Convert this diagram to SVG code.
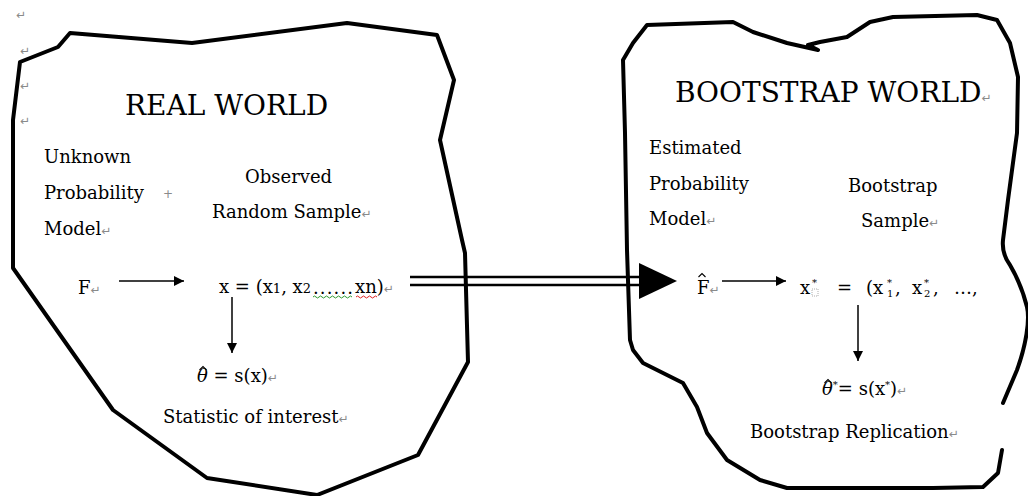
<svg xmlns="http://www.w3.org/2000/svg" width="1028" height="496" viewBox="0 0 1028 496">
<style>
text{font-family:"DejaVu Serif","Liberation Serif",serif;fill:#000}
.t{font-size:18px}
.h{font-size:28px}
.pm{font-size:12px;fill:#8a8a8a;font-family:"DejaVu Sans","Noto Sans",sans-serif}
.sm{font-size:13px}
.sup{font-size:10px}
.outline{fill:none;stroke:#000;stroke-width:4;stroke-linejoin:round;stroke-linecap:round}
.ln{stroke:#000;stroke-width:1.5;fill:none}
.hat{fill:none;stroke:#000;stroke-width:1.1}
</style>
<defs>
<marker id="ah" viewBox="0 0 10 10" refX="10" refY="5" markerWidth="10" markerHeight="10" markerUnits="userSpaceOnUse" orient="auto">
<path d="M0,0 L10,5 L0,10 z" fill="#000"/>
</marker>
</defs>
<g id="paragraph-marks">
<text class="pm" x="16" y="19">↵</text>
<text class="pm" x="20" y="55">↵</text>
<text class="pm" x="20" y="90">↵</text>
<text class="pm" x="20" y="125">↵</text>
</g>
<g id="real-world">
<path class="outline" d="M70,33 L192,43 L347,23 L437,35 L454,80 L440,140 L462,240 L465,253 L468,362 L418,455 L317,495 L207,478 L113,410 L13,268 L13,120 L20,62 L58,47 Z"/>
<text class="h" x="125" y="115">REAL WORLD</text>
</g>
<g id="unknown-model">
<text class="t" x="44" y="163">Unknown</text>
<text class="t" x="44" y="199">Probability</text>
<text class="pm" x="163" y="198">+</text>
<text class="t" x="44" y="235">Model<tspan class="pm">↵</tspan></text>
</g>
<g id="observed-sample">
<text class="t" x="245" y="183">Observed</text>
<text class="t" x="212" y="218">Random Sample<tspan class="pm">↵</tspan></text>
</g>
<g id="F">
<text class="t" x="78" y="294">F<tspan class="pm">↵</tspan></text>
</g>
<g id="x-sample">
<text class="t" x="219" y="293">x = (x<tspan class="sm">1</tspan>, x<tspan class="sm">2</tspan></text>
<text class="t" x="313" y="294" textLength="40">......</text>
<text class="t" x="355" y="293">xn)<tspan class="pm">↵</tspan></text>
<path d="M313,297 q1.5,-2 3,0 t3,0 t3,0 t3,0 t3,0 t3,0 t3,0 t3,0 t3,0 t3,0 t3,0 t3,0 t3,0" stroke="#2e9a2e" stroke-width="1" fill="none"/>
<path d="M356,297 q1.5,-2 3,0 t3,0 t3,0 t3,0 t3,0 t3,0 t3,0" stroke="#e02020" stroke-width="1" fill="none"/>
</g>
<g id="theta-hat">
<text class="t" x="197" y="382"><tspan font-style="italic">θ</tspan> = s(x)<tspan class="pm">↵</tspan></text>
<path class="hat" d="M199.5,370 L203,366.5 L206.5,370"/>
</g>
<g id="statistic">
<text class="t" x="163" y="423">Statistic of interest<tspan class="pm">↵</tspan></text>
</g>
<g id="bootstrap-world">
<path class="outline" stroke-width="3.5" d="M1003,403 L1017,370 C1026,345 1030,320 1027,307 C1024,295 1017,277 1010,265 C1004,257 1002,250 1003,240 L1008,200 L1017,133 L1018,77 L1010,43 L997,20 L977,15 L893,17 L870,22 L847,37 L820,42 L808,45 L818,50 L787,43 L753,32 L733,22 L647,25 L633,43 L623,60 L625,133 L627,250 L630,340 L633,350 L643,363 L683,383 L697,407 L707,433 L727,460 L760,480 L787,488 L933,488 L983,487 L998,473 L1002,450"/>
<text class="h" x="675" y="102">BOOTSTRAP WORLD<tspan class="pm">↵</tspan></text>
</g>
<g id="estimated-model">
<text class="t" x="649" y="154">Estimated</text>
<text class="t" x="649" y="190">Probability</text>
<text class="t" x="649" y="225">Model<tspan class="pm">↵</tspan></text>
</g>
<g id="bootstrap-sample">
<text class="t" x="848" y="192">Bootstrap</text>
<text class="t" x="861" y="227">Sample<tspan class="pm">↵</tspan></text>
</g>
<g id="F-hat">
<text class="t" x="697" y="294">F<tspan class="pm">↵</tspan></text>
<path class="hat" d="M698.5,277 L702,273.5 L705.5,277"/>
</g>
<g id="x-star">
<text class="t" x="800" y="294">x</text>
<text class="sup" x="812" y="286">*</text>
<rect x="812" y="289" width="6" height="7" fill="none" stroke="#999" stroke-width="0.8" stroke-dasharray="1,1"/>
<text class="t" x="837" y="294">=</text>
<text class="t" x="866" y="294">(x</text>
<text class="sup" x="887" y="286">*</text>
<text class="sup" x="887" y="297">1</text>
<text class="t" x="895" y="294">,</text>
<text class="t" x="912" y="294">x</text>
<text class="sup" x="924" y="286">*</text>
<text class="sup" x="924" y="297">2</text>
<text class="t" x="933" y="294">,</text>
<text class="t" x="954" y="294">…,</text>
</g>
<g id="theta-star">
<text class="t" x="822" y="395"><tspan font-style="italic">θ</tspan><tspan class="sup" dy="-7">*</tspan><tspan dy="7">= s(x</tspan><tspan class="sup" dy="-7">*</tspan><tspan dy="7">)</tspan><tspan class="pm">↵</tspan></text>
<path class="hat" d="M824.5,383 L828,379.5 L831.5,383"/>
</g>
<g id="replication">
<text class="t" x="750" y="438">Bootstrap Replication<tspan class="pm">↵</tspan></text>
</g>
<g id="connectors">
<line class="ln" x1="119" y1="281" x2="184" y2="281" marker-end="url(#ah)"/>
<line class="ln" x1="232" y1="297" x2="232" y2="353" marker-end="url(#ah)"/>
<line class="ln" x1="722" y1="281" x2="786" y2="281" marker-end="url(#ah)"/>
<line class="ln" x1="858" y1="305" x2="858" y2="361" marker-end="url(#ah)"/>
<line x1="410" y1="277" x2="642" y2="277" stroke="#000" stroke-width="2.5"/>
<line x1="410" y1="285" x2="642" y2="285" stroke="#000" stroke-width="2.5"/>
<path d="M639,263 L677,281 L639,299 Z" fill="#000"/>
</g>
</svg>
